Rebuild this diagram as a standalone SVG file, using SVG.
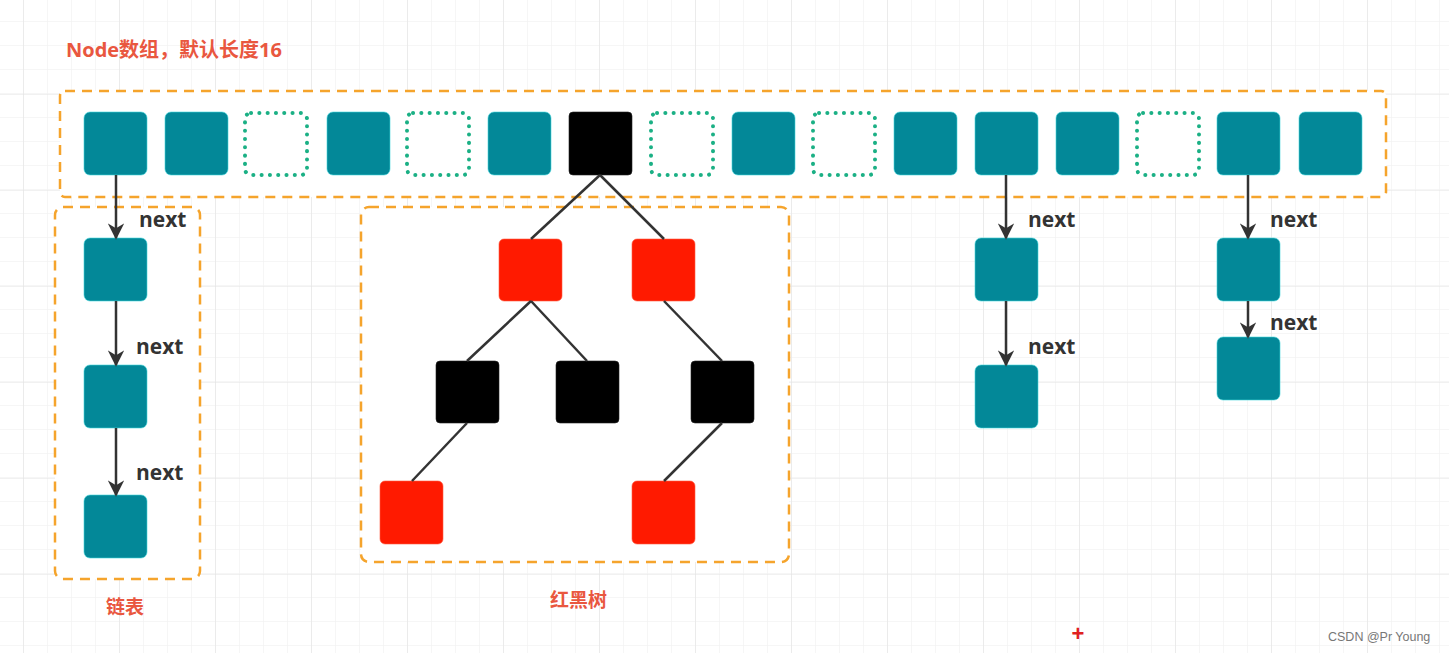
<svg xmlns="http://www.w3.org/2000/svg" width="1449" height="653" viewBox="0 0 1449 653">
<defs>
<pattern id="grid" x="23" y="21" width="24" height="24" patternUnits="userSpaceOnUse">
<path d="M0 0H24M0 0V24" fill="none" stroke="#eeeeee" stroke-width="1"/>
</pattern>
<pattern id="gridMajor" x="23" y="-2" width="96" height="96" patternUnits="userSpaceOnUse">
<path d="M0 0H96M0 0V96" fill="none" stroke="#e4e4e4" stroke-width="1.2"/>
</pattern>
<marker id="arr" viewBox="0 0 10 10" refX="9" refY="5" markerWidth="6.5" markerHeight="6.5" orient="auto" markerUnits="strokeWidth">
<path d="M0 0L10 5L0 10L3 5Z" fill="#333"/>
</marker>
</defs>
<style>
.cell{fill:#038898;stroke:#3fd6dc;stroke-width:0.6}
.empty{fill:#fff;stroke:#1bb085;stroke-width:4;stroke-dasharray:0.1 8.2;stroke-linecap:round}
.blk{fill:#000;stroke:#222;stroke-width:0.6}
.red{fill:#ff1a00;stroke:#ff5a40;stroke-width:0.6}
.group{fill:#fff;stroke:#f5a42c;stroke-width:2.5;stroke-dasharray:10 7}
.edge{stroke:#333;stroke-width:2.5;fill:none}
.arrow{stroke:#333;stroke-width:2.5;fill:none;marker-end:url(#arr)}
.lbl{font-family:"Open Sans","Liberation Sans",sans-serif;font-weight:bold;font-size:21px;fill:#333}
.title{font-family:"Open Sans","Noto Sans CJK SC",sans-serif;font-weight:bold;font-size:20px;fill:#e9573f}
.cap{font-family:"Noto Sans CJK SC",sans-serif;font-weight:bold;font-size:19px;fill:#e9573f}
</style>
<rect width="1449" height="653" fill="#fff"/>
<rect width="1449" height="653" fill="url(#grid)"/>
<rect width="1449" height="653" fill="url(#gridMajor)"/>

<g id="groups">
<rect id="array-box" class="group" x="60" y="91" width="1326" height="106" rx="5"/>
<rect id="list-box" class="group" x="55" y="207" width="145" height="372" rx="8"/>
<rect id="tree-box" class="group" x="361" y="207" width="428" height="355" rx="8"/>
</g>

<g id="array">
<rect class="cell" x="84" y="112" width="63" height="63" rx="6"/>
<rect class="cell" x="165" y="112" width="63" height="63" rx="6"/>
<rect class="empty" x="245" y="113" width="62" height="62" rx="6"/>
<rect class="cell" x="327" y="112" width="63" height="63" rx="6"/>
<rect class="empty" x="407" y="113" width="62" height="62" rx="6"/>
<rect class="cell" x="488" y="112" width="63" height="63" rx="6"/>
<rect class="blk" x="569" y="112" width="63" height="63" rx="4"/>
<rect class="empty" x="651" y="113" width="62" height="62" rx="6"/>
<rect class="cell" x="732" y="112" width="63" height="63" rx="6"/>
<rect class="empty" x="813" y="113" width="62" height="62" rx="6"/>
<rect class="cell" x="894" y="112" width="63" height="63" rx="6"/>
<rect class="cell" x="975" y="112" width="63" height="63" rx="6"/>
<rect class="cell" x="1056" y="112" width="63" height="63" rx="6"/>
<rect class="empty" x="1137" y="113" width="62" height="62" rx="6"/>
<rect class="cell" x="1217" y="112" width="63" height="63" rx="6"/>
<rect class="cell" x="1299" y="112" width="63" height="63" rx="6"/>
</g>

<g id="list-nodes">
<rect class="cell" x="84" y="238" width="63" height="63" rx="6"/>
<rect class="cell" x="84" y="365" width="63" height="63" rx="6"/>
<rect class="cell" x="84" y="495" width="63" height="63" rx="6"/>
<rect class="cell" x="975" y="238" width="63" height="63" rx="6"/>
<rect class="cell" x="975" y="365" width="63" height="63" rx="6"/>
<rect class="cell" x="1217" y="238" width="63" height="63" rx="6"/>
<rect class="cell" x="1217" y="337" width="63" height="63" rx="6"/>
</g>

<g id="tree-nodes">
<rect class="red" x="499" y="239" width="63" height="62" rx="5"/>
<rect class="red" x="632" y="239" width="63" height="62" rx="5"/>
<rect class="blk" x="436" y="361" width="63" height="62" rx="4"/>
<rect class="blk" x="556" y="361" width="63" height="62" rx="4"/>
<rect class="blk" x="691" y="361" width="63" height="62" rx="4"/>
<rect class="red" x="380" y="481" width="63" height="63" rx="5"/>
<rect class="red" x="632" y="481" width="63" height="63" rx="5"/>
</g>

<g id="connectors">
<line class="arrow" x1="116" y1="175" x2="116" y2="238"/>
<line class="arrow" x1="116" y1="301" x2="116" y2="365"/>
<line class="arrow" x1="116" y1="428" x2="116" y2="495"/>
<line class="arrow" x1="1006" y1="175" x2="1006" y2="238"/>
<line class="arrow" x1="1006" y1="301" x2="1006" y2="365"/>
<line class="arrow" x1="1248" y1="175" x2="1248" y2="238"/>
<line class="arrow" x1="1248" y1="301" x2="1248" y2="337"/>
<line class="edge" x1="600" y1="175" x2="531" y2="239"/>
<line class="edge" x1="600" y1="175" x2="664" y2="239"/>
<line class="edge" x1="531" y1="301" x2="467" y2="361"/>
<line class="edge" x1="531" y1="301" x2="587" y2="361"/>
<line class="edge" x1="664" y1="301" x2="722" y2="361"/>
<line class="edge" x1="467" y1="423" x2="412" y2="481"/>
<line class="edge" x1="722" y1="423" x2="664" y2="481"/>
</g>

<g id="labels">
<text class="lbl" x="139" y="227">next</text>
<text class="lbl" x="136" y="354">next</text>
<text class="lbl" x="136" y="480">next</text>
<text class="lbl" x="1028" y="227">next</text>
<text class="lbl" x="1028" y="354">next</text>
<text class="lbl" x="1270" y="227">next</text>
<text class="lbl" x="1270" y="330">next</text>
<text class="title" x="66" y="57">Node数组，默认长度16</text>
<text class="cap" x="106" y="614">链表</text>
<text class="cap" x="550" y="607">红黑树</text>
<text x="1078" y="641" font-family="Liberation Sans,sans-serif" font-weight="bold" font-size="22" fill="#e02020" text-anchor="middle">+</text>
<text x="1328" y="641" font-family="Liberation Sans,sans-serif" font-size="12.5" fill="#777">CSDN @Pr Young</text>
</g>
</svg>
